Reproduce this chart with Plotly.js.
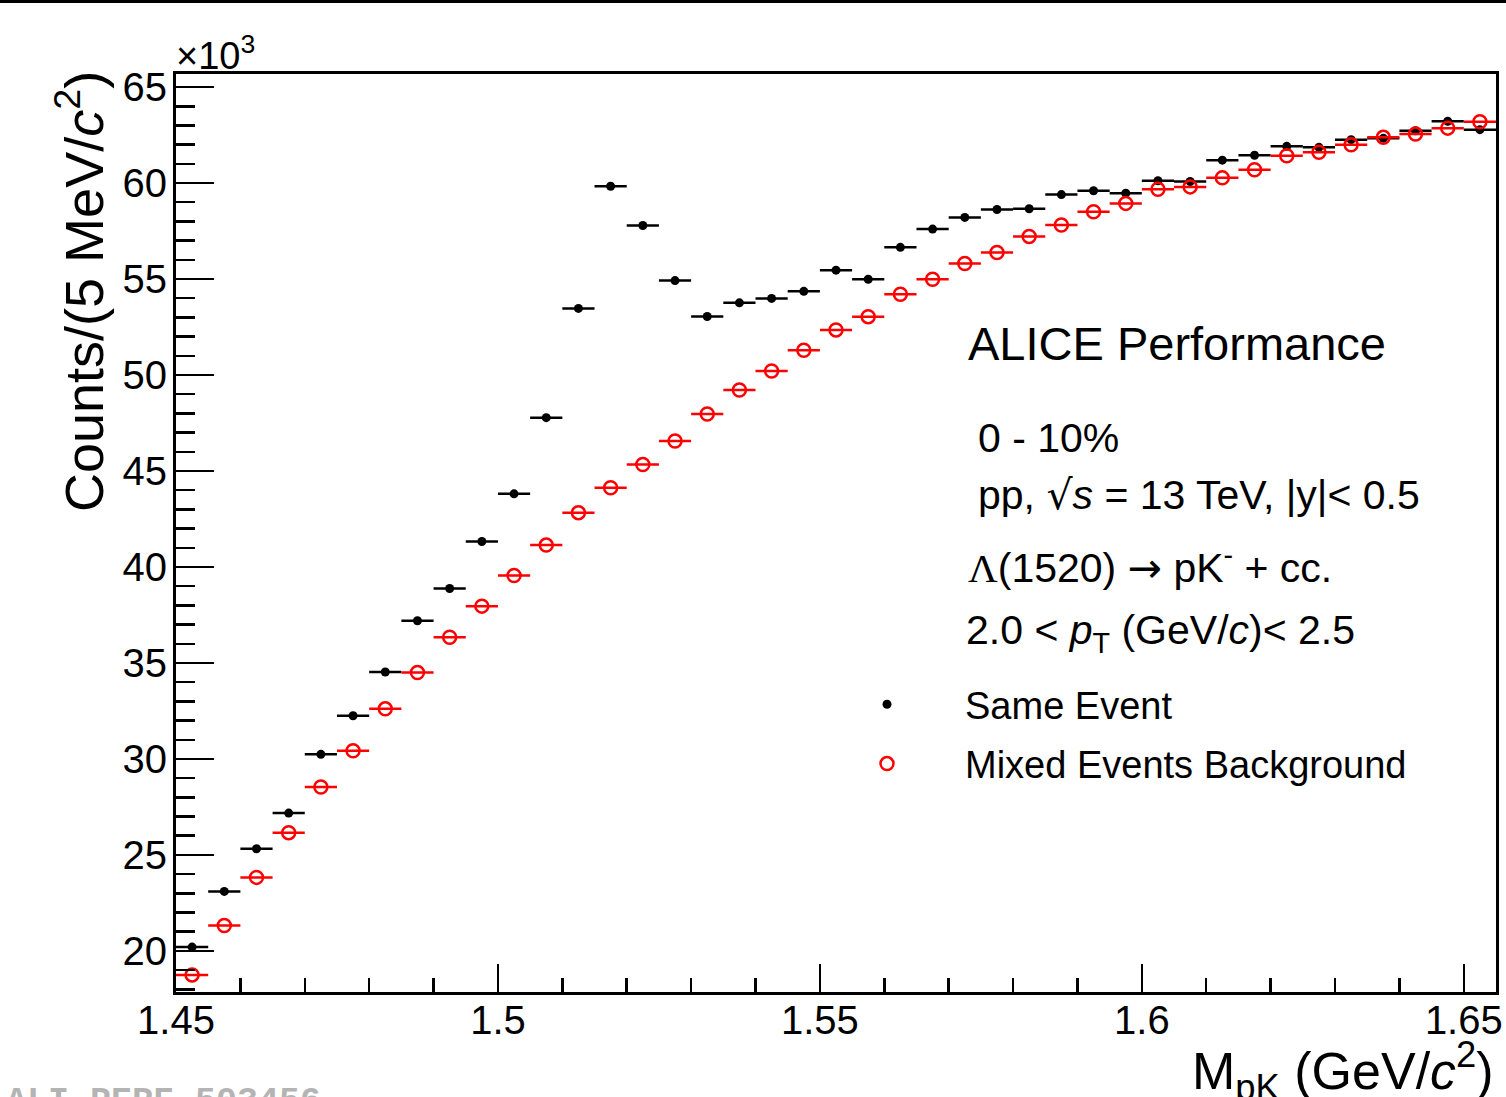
<!DOCTYPE html>
<html>
<head>
<meta charset="utf-8">
<script src="https://cdn.plot.ly/plotly-3.0.1.min.js"></script>
<style>
  html, body { margin: 0; padding: 0; background: #ffffff; }
  #topbar { position: absolute; left: 0; top: 0; width: 1506px; height: 3px; background: #000; z-index: 5; }
  #chart { position: absolute; left: 0; top: 0; width: 1506px; height: 1097px; }
</style>
</head>
<body>
<div id="topbar"></div>
<div id="chart"></div>
<script>
// Bin centres of M_pK (GeV/c^2), 5 MeV bins
const massBins = [1.4525, 1.4575, 1.4625, 1.4675, 1.4725, 1.4775, 1.4825, 1.4875, 1.4925, 1.4975,
                  1.5025, 1.5075, 1.5125, 1.5175, 1.5225, 1.5275, 1.5325, 1.5375, 1.5425, 1.5475,
                  1.5525, 1.5575, 1.5625, 1.5675, 1.5725, 1.5775, 1.5825, 1.5875, 1.5925, 1.5975,
                  1.6025, 1.6075, 1.6125, 1.6175, 1.6225, 1.6275, 1.6325, 1.6375, 1.6425, 1.6475,
                  1.6525];
const binHalfWidth = 0.0025;

// Counts per bin, in units of 10^3
const sameEvent = [20.20, 23.10, 25.32, 27.18, 30.24, 32.25, 34.53, 37.20, 38.88, 41.33,
                   43.81, 47.78, 53.47, 59.83, 57.79, 54.92, 53.05, 53.76, 53.99, 54.36,
                   55.46, 54.99, 56.65, 57.60, 58.21, 58.62, 58.66, 59.40, 59.60, 59.47,
                   60.12, 60.08, 61.19, 61.45, 61.91, 61.86, 62.26, 62.33, 62.72, 63.22,
                   62.78];
const mixedEvents = [18.75, 21.32, 23.83, 26.16, 28.54, 30.43, 32.61, 34.50, 36.34, 37.96,
                     39.56, 41.14, 42.83, 44.13, 45.34, 46.56, 47.97, 49.22, 50.21, 51.29,
                     52.35, 53.04, 54.21, 54.99, 55.81, 56.38, 57.22, 57.81, 58.50, 58.94,
                     59.68, 59.80, 60.27, 60.69, 61.42, 61.60, 61.99, 62.38, 62.55, 62.86,
                     63.19];

const xTickVals = [1.45, 1.5, 1.55, 1.6, 1.65];
const xTickText = ["1.45", "1.5", "1.55", "1.6", "1.65"];
const yTickVals = [20, 25, 30, 35, 40, 45, 50, 55, 60, 65];
const yTickText = ["20", "25", "30", "35", "40", "45", "50", "55", "60", "65"];

const seriesNames = ["Same Event", "Mixed Events Background"];

const FONT = "Liberation Sans, Arial, Helvetica, sans-serif";

// plot area geometry in pixels (for placing text)
const L = 176, R = 1496, T = 74, B = 992;
const px = (x) => (x - L) / (R - L);
const py = (y) => (B - y) / (B - T);

const traces = [
  {
    type: "scatter", mode: "markers", name: seriesNames[0], legendgroup: "a",
    x: massBins, y: sameEvent,
    marker: { symbol: "circle", size: 9, color: "#000000" },
    error_x: { type: "constant", value: binHalfWidth, width: 0, thickness: 2.5, color: "#000000" }
  },
  {
    type: "scatter", mode: "markers", name: seriesNames[1], legendgroup: "b",
    x: massBins, y: mixedEvents,
    marker: { symbol: "circle-open", size: 13, color: "#ff0000", line: { width: 2.5, color: "#ff0000" } },
    error_x: { type: "constant", value: binHalfWidth, width: 0, thickness: 2.5, color: "#ff0000" }
  }
];

const annFont = { family: FONT, size: 41, color: "#000" };

const layout = {
  width: 1506, height: 1097,
  margin: { l: L, r: 1506 - R, t: T, b: 1097 - B, pad: 0 },
  paper_bgcolor: "#ffffff", plot_bgcolor: "#ffffff",
  font: { family: FONT, color: "#000" },
  showlegend: true,
  legend: {
    x: px(809), y: py(673), xanchor: "left", yanchor: "top",
    font: { family: FONT, size: 38, color: "#000" },
    bgcolor: "rgba(0,0,0,0)", borderwidth: 0,
    itemwidth: 146, tracegroupgap: 7, traceorder: "grouped"
  },
  xaxis: {
    range: [1.45, 1.655], showgrid: false, zeroline: false,
    showline: true, linecolor: "#000", linewidth: 3, mirror: true,
    ticks: "inside", ticklen: 28, tickwidth: 2.5, tickcolor: "#000",
    tickvals: xTickVals, ticktext: xTickText,
    tickfont: { family: FONT, size: 40, color: "#000" },
    ticklabelstandoff: -9,
    minor: { dtick: 0.01, tick0: 1.45, ticks: "inside", ticklen: 14, tickwidth: 2.5, tickcolor: "#000", showgrid: false }
  },
  yaxis: {
    range: [17.86, 65.68], showgrid: false, zeroline: false,
    showline: true, linecolor: "#000", linewidth: 3, mirror: true,
    ticks: "inside", ticklen: 38, tickwidth: 2.5, tickcolor: "#000",
    tickvals: yTickVals, ticktext: yTickText,
    tickfont: { family: FONT, size: 40, color: "#000" },
    ticklabelstandoff: -2,
    minor: { dtick: 1, tick0: 0, ticks: "inside", ticklen: 19, tickwidth: 2.5, tickcolor: "#000", showgrid: false }
  },
  annotations: [
    { xref: "paper", yref: "paper", x: px(80), y: py(292), xanchor: "center", yanchor: "middle",
      textangle: -90, showarrow: false,
      text: "Counts/(5 MeV/<i>c</i><sup>2</sup>)", font: { family: FONT, size: 54, color: "#000" } },
    { xref: "paper", yref: "paper", x: 1, y: py(1032), xanchor: "right", yanchor: "top", showarrow: false,
      text: "M<sub>pK</sub> (GeV/<i>c</i><sup>2</sup>)", font: { family: FONT, size: 52, color: "#000" } },
    { xref: "paper", yref: "paper", x: px(174), y: py(79), xanchor: "left", yanchor: "bottom", showarrow: false,
      text: "×10<sup>3</sup>", font: { family: FONT, size: 38, color: "#000" } },
    { xref: "paper", yref: "paper", x: px(966), y: py(344), xanchor: "left", yanchor: "middle", showarrow: false,
      text: "ALICE Performance", font: { family: FONT, size: 47, color: "#000" } },
    { xref: "paper", yref: "paper", x: px(976), y: py(438), xanchor: "left", yanchor: "middle", showarrow: false,
      text: "0 - 10%", font: annFont },
    { xref: "paper", yref: "paper", x: px(976), y: py(495), xanchor: "left", yanchor: "middle", showarrow: false,
      text: "pp, <span style='font-family:DejaVu Sans'>√</span><i>s</i> = 13 TeV, |y|&lt; 0.5", font: annFont },
    { xref: "paper", yref: "paper", x: px(966), y: py(565), xanchor: "left", yanchor: "middle", showarrow: false,
      text: "<span style='font-family:Liberation Serif'>Λ</span>(1520) <span style='font-family:DejaVu Sans'>→</span> pK<sup>-</sup> + cc.", font: annFont },
    { xref: "paper", yref: "paper", x: px(964), y: py(633), xanchor: "left", yanchor: "middle", showarrow: false,
      text: "2.0 &lt; <i>p</i><sub>T</sub> (GeV/<i>c</i>)&lt; 2.5", font: annFont },
    { xref: "paper", yref: "paper", x: px(4), y: py(1080), xanchor: "left", yanchor: "top", showarrow: false,
      text: "<b>ALI-PERF-503456</b>", font: { family: "Liberation Mono, Courier New, monospace", size: 35, color: "#b4b4b4" } }
  ]
};

Plotly.newPlot("chart", traces, layout, { displayModeBar: false, staticPlot: true });
</script>
</body>
</html>
